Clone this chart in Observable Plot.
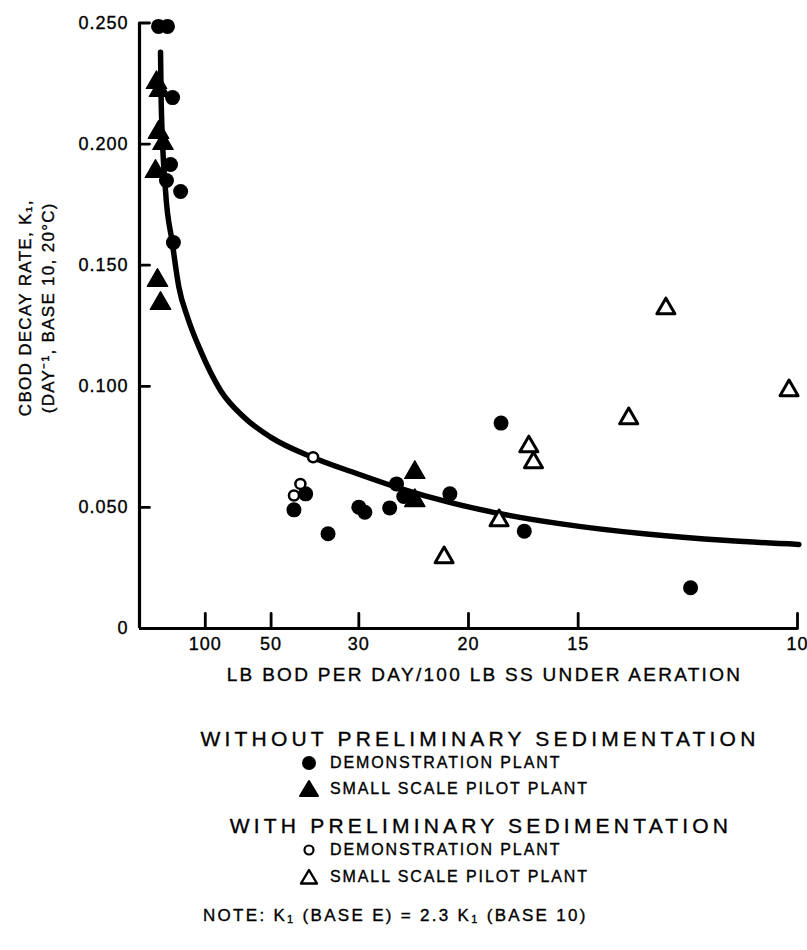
<!DOCTYPE html>
<html><head><meta charset="utf-8">
<script src="https://cdn.jsdelivr.net/npm/d3@7"></script>
<script src="https://cdn.jsdelivr.net/npm/@observablehq/plot@0.6"></script>
<style>
html,body{margin:0;padding:0;background:#fff;}
body{position:relative;width:807px;height:950px;overflow:hidden;font-family:"Liberation Sans",Arial,Helvetica,sans-serif;color:#000;}
#chart svg text{letter-spacing:1px;stroke:#000;stroke-width:0.35px;}
#chart svg .xlabel text{letter-spacing:2.3px;}
#chart svg .ylabel text{letter-spacing:1.3px;}
.lg{position:absolute;white-space:nowrap;line-height:1;transform:translateY(-50%);-webkit-text-stroke:0.35px #000;}
.h{font-size:21px;letter-spacing:4.2px;}
.it{font-size:16px;letter-spacing:1.9px;}
.note{font-size:17px;letter-spacing:2.3px;}
.sym{position:absolute;transform:translate(-50%,-50%);}
sub{font-size:0.65em;vertical-align:-0.25em;line-height:0;}
</style></head><body>
<div id="chart"></div>
<div class="lg h" style="left:480px;top:738px;transform:translate(-50%,-50%)">WITHOUT PRELIMINARY SEDIMENTATION</div>
<svg class="sym" style="left:309px;top:763px" width="18" height="18"><circle cx="9" cy="9" r="7" fill="#000"/></svg>
<div class="lg it" style="left:330px;top:763px">DEMONSTRATION PLANT</div>
<svg class="sym" style="left:309px;top:789px" width="22" height="20"><path d="M11,2 L20,17 L2,17 Z" fill="#000" stroke="#000" stroke-width="2" stroke-linejoin="round"/></svg>
<div class="lg it" style="left:330px;top:789px">SMALL SCALE PILOT PLANT</div>
<div class="lg h" style="left:481px;top:825px;transform:translate(-50%,-50%)">WITH PRELIMINARY SEDIMENTATION</div>
<svg class="sym" style="left:309px;top:850px" width="16" height="16"><circle cx="8" cy="8" r="4.5" fill="#fff" stroke="#000" stroke-width="2.2"/></svg>
<div class="lg it" style="left:330px;top:850px">DEMONSTRATION PLANT</div>
<svg class="sym" style="left:309px;top:877px" width="22" height="20"><path d="M11,3 L19,16.5 L3,16.5 Z" fill="#fff" stroke="#000" stroke-width="2.4" stroke-linejoin="round"/></svg>
<div class="lg it" style="left:330px;top:877px">SMALL SCALE PILOT PLANT</div>
<div class="lg note" style="left:203px;top:915px">NOTE: K<sub>1</sub> (BASE E) = 2.3 K<sub>1</sub> (BASE 10)</div>
<script>
// x: LB BOD per day / 100 LB SS under aeration (axis is linear in 1/F)
// y: CBOD decay rate K1 (day^-1, base 10, 20°C)

// Without preliminary sedimentation — demonstration plant (filled circles)
const demoNoSedF = [346, 235, 199, 212, 244, 160, 194, 39.6, 42.6, 34.9, 30.0, 29.2, 26.3, 25.6, 24.9, 21.2, 18.2, 17.1, 11.94];
const demoNoSedK = [0.2486, 0.2486, 0.2192, 0.1916, 0.1850, 0.1804, 0.1594, 0.0556, 0.0490, 0.0391, 0.0501, 0.0480, 0.0498, 0.0597, 0.0545, 0.0556, 0.0848, 0.0402, 0.0168];

// Without preliminary sedimentation — small scale pilot plant (filled triangles)
const pilotNoSedF = [387, 329, 346, 280, 411, 366, 313, 23.9, 23.9];
const pilotNoSedK = [0.2254, 0.2221, 0.2048, 0.2002, 0.1887, 0.1437, 0.1342, 0.0644, 0.0528];

// With preliminary sedimentation — demonstration plant (open circles)
const demoSedF = [37.9, 40.9, 42.6];
const demoSedK = [0.0707, 0.0597, 0.0549];

// With preliminary sedimentation — small scale pilot plant (open triangles)
const pilotSedF = [21.6, 18.3, 16.9, 16.7, 13.45, 12.5, 10.13];
const pilotSedK = [0.0293, 0.0446, 0.0751, 0.0685, 0.0867, 0.1321, 0.0983];

// Fitted curve
const curveF = [313, 303, 253, 201, 167, 137, 108, 81.2, 63.1, 50.2, 38.1, 30.2, 25.2, 21.15, 18.3, 15.6, 13.04, 11.19, 9.98];
const curveK = [0.2379, 0.2168, 0.1808, 0.1595, 0.1409, 0.1285, 0.1148, 0.0983, 0.0873, 0.0790, 0.0707, 0.0639, 0.0578, 0.0520, 0.0475, 0.0432, 0.0391, 0.0363, 0.0347];

// Axis ticks
const xTickLabels = [100, 50, 30, 20, 15, 10];
const yTickValues = [0, 0.05, 0.10, 0.15, 0.20, 0.25];

const zip = (F, K) => F.map((f, i) => ({F: f, K: K[i]}));
const demoNoSed = zip(demoNoSedF, demoNoSedK);
const pilotNoSed = zip(pilotNoSedF, pilotNoSedK);
const demoSed = zip(demoSedF, demoSedK);
const pilotSed = zip(pilotSedF, pilotSedK);
const curve = zip(curveF, curveK);
const xTicks = xTickLabels.map(v => 1 / v);
const inv = d => 1 / d.F;

const tickShape = {draw(context, l) { context.moveTo(0, 0); context.lineTo(0, -l); }};

const chart = Plot.plot({
  width: 807,
  height: 700,
  marginLeft: 139,
  marginRight: 10,
  marginTop: 22.5,
  marginBottom: 72,
  style: {fontFamily: "'Liberation Sans', Arial, Helvetica, sans-serif", color: "#000", background: "#fff"},
  x: {domain: [0, 0.1], label: null},
  y: {domain: [0, 0.25], label: null},
  marks: [
    Plot.ruleX([0], {strokeWidth: 3.2, stroke: "#000"}),
    Plot.ruleY([0], {strokeWidth: 3.2, stroke: "#000"}),
    Plot.vector(yTickValues.filter(d => d > 0), {x: 0, y: d => d, length: 10, rotate: 90, anchor: "start", shape: tickShape, strokeWidth: 2.8, stroke: "#000"}),
    Plot.vector(xTicks, {x: d => d, y: 0, length: 15, rotate: 0, anchor: "start", shape: tickShape, strokeWidth: 2.8, stroke: "#000"}),
    Plot.axisY(yTickValues, {tickSize: 0, tickPadding: 11, fontSize: 18, tickFormat: d => d === 0 ? "0" : d3.format(".3f")(d), label: null}),
    Plot.axisX(xTicks, {tickSize: 0, tickPadding: 9, fontSize: 18, tickFormat: d => String(Math.round(1 / d)), label: null}),
    Plot.text(["CBOD DECAY RATE, K\u2081,\n(DAY\u207B\u00B9, BASE 10, 20°C)"], {className: "ylabel", frameAnchor: "left", rotate: -90, dx: -104, dy: -18, fontSize: 17, lineHeight: 1.35, textAnchor: "middle"}),
    Plot.text(["LB BOD PER DAY/100 LB SS UNDER AERATION"], {className: "xlabel", frameAnchor: "bottom", dx: 16, dy: 52, fontSize: 19}),
    Plot.line(curve, {x: inv, y: "K", curve: "monotone-x", strokeWidth: 5.5, stroke: "#000", strokeLinecap: "round"}),
    Plot.dot(demoNoSed, {x: inv, y: "K", r: 7.5, fill: "#000"}),
    Plot.dot(pilotNoSed, {x: inv, y: "K", symbol: "triangle", r: 7.6, fill: "#000", stroke: "#000", strokeWidth: 1.2, strokeLinejoin: "round"}),
    Plot.dot(demoSed, {x: inv, y: "K", r: 5, fill: "#fff", stroke: "#000", strokeWidth: 2.5}),
    Plot.dot(pilotSed, {x: inv, y: "K", symbol: "triangle", r: 6.7, fill: "#fff", stroke: "#000", strokeWidth: 3, strokeLinejoin: "round"})
  ]
});
document.getElementById("chart").appendChild(chart);
</script>
</body></html>
